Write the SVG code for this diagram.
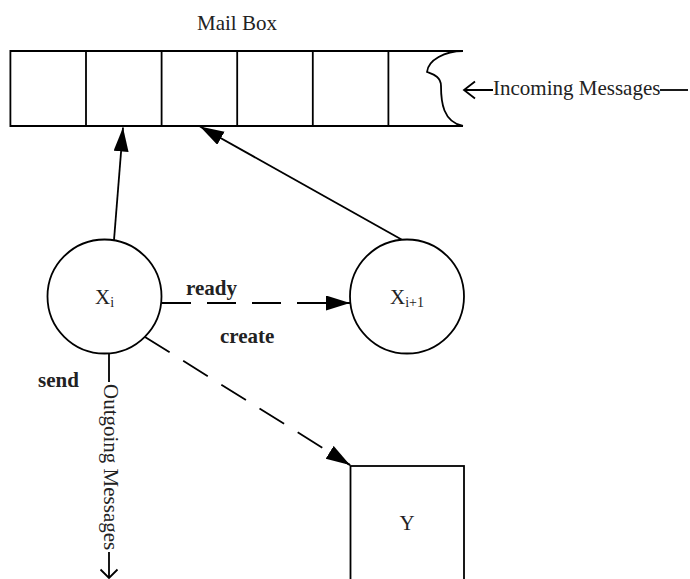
<svg xmlns="http://www.w3.org/2000/svg" width="690" height="579" viewBox="0 0 690 579">
<style>
.ln{stroke:#000;stroke-width:1.8;fill:none}
.dash{stroke:#000;stroke-width:1.8;fill:none;stroke-dasharray:29 16}
.t{font-family:"Liberation Serif","Times New Roman",serif;font-size:21px;fill:#222}
.b{font-family:"Liberation Serif","Times New Roman",serif;font-size:21px;font-weight:bold;fill:#222}
.sub{font-family:"Liberation Serif","Times New Roman",serif;font-size:14px;fill:#222}
</style>
<defs>
<marker id="ah" markerUnits="userSpaceOnUse" markerWidth="26" markerHeight="16" refX="24" refY="7.5" orient="auto">
<path d="M0,0 L24,7.5 L0,15 z" fill="#000"/>
</marker>
</defs>
<g id="mailbox">
<text class="t" x="237" y="30" text-anchor="middle">Mail Box</text>
<path class="ln" d="M463,51 L10.4,51 L10.4,126 L463,126"/>
<path class="ln" d="M86,51 V126 M161.6,51 V126 M237.2,51 V126 M312.8,51 V126 M388.4,51 V126"/>
<path class="ln" d="M463,51 C445,51 428,60 427,72 C432,74 441,76 441,86 C441,102 443,122 463,126"/>
</g>
<g id="incoming">
<path class="ln" d="M493,90 H464 M475,81.5 L464,90 L475,98.5"/>
<text class="t" x="493" y="95">Incoming Messages</text>
<path class="ln" d="M660,90 H688"/>
</g>
<g id="xi">
<circle class="ln" cx="104.5" cy="296.5" r="57"/>
<text class="t" x="95" y="304">X<tspan class="sub" dy="3">i</tspan></text>
</g>
<g id="xi1">
<circle class="ln" cx="407" cy="296.5" r="57"/>
<text class="t" x="390" y="304">X<tspan class="sub" dy="3">i+1</tspan></text>
</g>
<g id="y">
<rect class="ln" x="350.5" y="466" width="113.5" height="200"/>
<text class="t" x="407" y="530" text-anchor="middle">Y</text>
</g>
<g id="connectors">
<line class="ln" x1="114" y1="240" x2="123" y2="127.5" marker-end="url(#ah)"/>
<line class="ln" x1="401.5" y1="239.5" x2="200" y2="126.5" marker-end="url(#ah)"/>
<line class="dash" x1="162" y1="303" x2="350" y2="303"/>
<line class="ln" x1="326" y1="303" x2="350" y2="303" marker-end="url(#ah)"/>
<text class="b" x="186" y="295">ready</text>
<line class="dash" x1="145" y1="337" x2="350" y2="465"/>
<line class="ln" x1="330" y1="452.5" x2="350" y2="465" marker-end="url(#ah)"/>
<text class="b" x="220" y="343">create</text>
<text class="b" x="38" y="387">send</text>
<path class="ln" d="M109,353.5 V382 M109,552 V577 M100.5,569.5 L109,578 L117.5,569.5"/>
<text class="t" transform="translate(104,384) rotate(90)">Outgoing Messages</text>
</g>
</svg>
